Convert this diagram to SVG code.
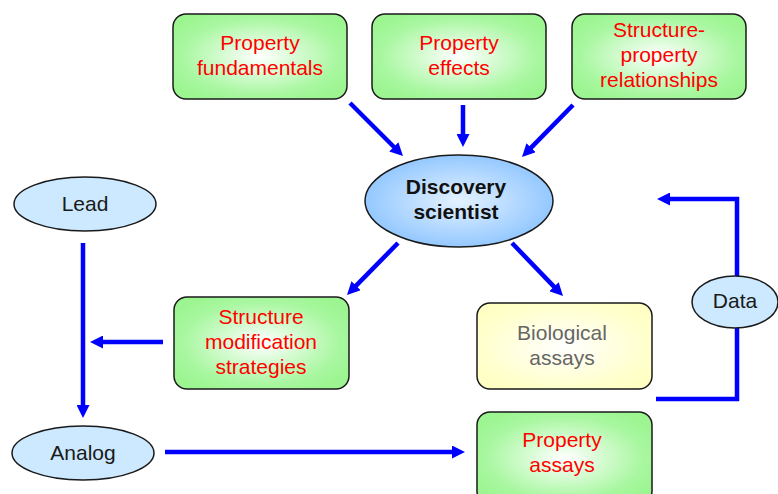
<svg xmlns="http://www.w3.org/2000/svg" width="778" height="494" viewBox="0 0 778 494">
<defs>
<radialGradient id="gGreen" cx="50%" cy="50%" r="60%">
<stop offset="0" stop-color="#ffffff"/>
<stop offset="0.75" stop-color="#a8f7a0"/>
<stop offset="1" stop-color="#9cf590"/>
</radialGradient>
<radialGradient id="gYellow" cx="50%" cy="50%" r="60%">
<stop offset="0" stop-color="#ffffff"/>
<stop offset="0.8" stop-color="#ffffcc"/>
<stop offset="1" stop-color="#ffffc4"/>
</radialGradient>
<radialGradient id="gBlue" cx="50%" cy="50%" r="55%">
<stop offset="0" stop-color="#e4f2ff"/>
<stop offset="1" stop-color="#8cc4ff"/>
</radialGradient>
<marker id="arr" viewBox="0 0 13 13" markerWidth="13" markerHeight="13" refX="1" refY="6.5" orient="auto" markerUnits="userSpaceOnUse">
<path d="M0,0 L13,6.5 L0,13 z" fill="#0000ff"/>
</marker>
<style>
.box{stroke:#1a1a1a;stroke-width:1.5}
.g{fill:url(#gGreen)}
.y{fill:url(#gYellow)}
.ell{fill:#cce9ff;stroke:#1a1a1a;stroke-width:1.5}
.t{font-family:"Liberation Sans",Arial,sans-serif;font-size:21px;text-anchor:middle}
.red{fill:#ff0000}
.dark{fill:#1a1a1a}
.gray{fill:#666666}
.bold{font-weight:bold;fill:#111111}
.c{stroke:#0000ff;stroke-width:4.5;fill:none;marker-end:url(#arr)}
</style>
</defs>
<g id="connectors">
<line class="c" x1="350" y1="103" x2="394.5" y2="147.5"/>
<line class="c" x1="463" y1="105" x2="463" y2="135"/>
<line class="c" x1="573" y1="105" x2="530.4" y2="148.4"/>
<line class="c" x1="398" y1="243" x2="355.4" y2="286.4"/>
<line class="c" x1="512" y1="243" x2="554.7" y2="287.4"/>
<line class="c" x1="163" y1="342" x2="102" y2="342"/>
<line class="c" x1="83" y1="243" x2="83" y2="406"/>
<line class="c" x1="165" y1="452" x2="453" y2="452"/>
<path class="c" d="M656,399 H737 V199 H669"/>
</g>
<g id="prop-fund">
<rect class="box g" x="173" y="14" width="174" height="85" rx="13"/>
<text class="t red" x="260" y="50">Property</text>
<text class="t red" x="260" y="75">fundamentals</text>
</g>
<g id="prop-effects">
<rect class="box g" x="372" y="14" width="174" height="85" rx="13"/>
<text class="t red" x="459" y="50">Property</text>
<text class="t red" x="459" y="75">effects</text>
</g>
<g id="struct-prop">
<rect class="box g" x="572" y="14" width="174" height="85" rx="13"/>
<text class="t red" x="659" y="37">Structure-</text>
<text class="t red" x="659" y="62">property</text>
<text class="t red" x="659" y="87">relationships</text>
</g>
<g id="discovery">
<ellipse cx="459" cy="201" rx="94" ry="46" fill="url(#gBlue)" stroke="#1a1a1a" stroke-width="1.5"/>
<text class="t bold" x="456" y="194">Discovery</text>
<text class="t bold" x="456" y="219">scientist</text>
</g>
<g id="lead">
<ellipse class="ell" cx="85" cy="204" rx="71" ry="27"/>
<text class="t dark" x="85" y="211">Lead</text>
</g>
<g id="struct-mod">
<rect class="box g" x="174" y="297" width="175" height="92" rx="13"/>
<text class="t red" x="261" y="324">Structure</text>
<text class="t red" x="261" y="349">modification</text>
<text class="t red" x="261" y="374">strategies</text>
</g>
<g id="bio-assays">
<rect class="box y" x="477" y="303" width="175" height="86" rx="13"/>
<text class="t gray" x="562" y="340">Biological</text>
<text class="t gray" x="562" y="365">assays</text>
</g>
<g id="data">
<ellipse class="ell" cx="735" cy="302" rx="43" ry="26"/>
<text class="t dark" x="735" y="308">Data</text>
</g>
<g id="analog">
<ellipse class="ell" cx="83" cy="453" rx="71" ry="27"/>
<text class="t dark" x="83" y="460">Analog</text>
</g>
<g id="prop-assays">
<rect class="box g" x="477" y="412" width="175" height="92" rx="13"/>
<text class="t red" x="562" y="447">Property</text>
<text class="t red" x="562" y="472">assays</text>
</g>
</svg>
